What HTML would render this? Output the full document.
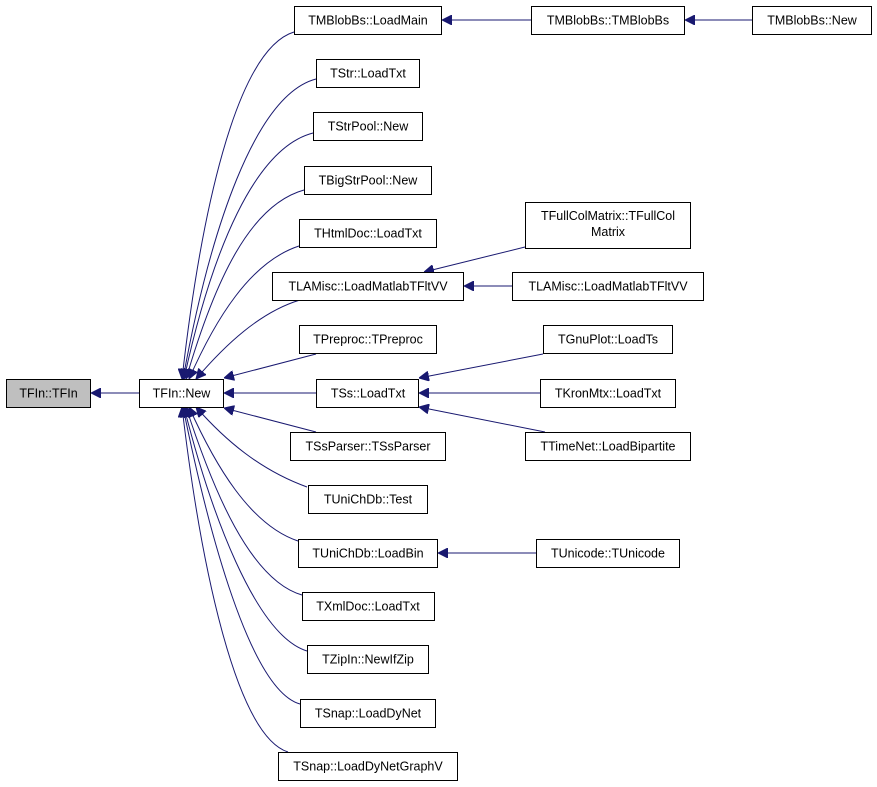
<!DOCTYPE html>
<html><head><meta charset="utf-8"><style>
html,body{margin:0;padding:0;background:#fff}
svg{display:block}
text{font-family:"Liberation Sans",Arial,sans-serif;font-size:12.5px;fill:#000}
rect{fill:#fff;stroke:#000;stroke-width:1}
path.e{fill:none;stroke:#191970;stroke-width:1}
</style></head><body>
<svg width="877" height="787" viewBox="0 0 877 787" xmlns="http://www.w3.org/2000/svg">
<defs><marker id="a" viewBox="0 0 10 10" refX="10" refY="5" markerWidth="10" markerHeight="10" markerUnits="userSpaceOnUse" orient="auto"><path d="M0,0 L10,5 L0,10 z" fill="#191970" stroke="#191970"/></marker></defs>

<!-- edges -->
<path class="e" marker-end="url(#a)" d="M139,393 L91,393"/>
<path class="e" marker-end="url(#a)" d="M294,32 C235,50 200,220 182,379"/>
<path class="e" marker-end="url(#a)" d="M316,79 C255,95 210,230 183,379"/>
<path class="e" marker-end="url(#a)" d="M313,133 C255,148 212,250 184,379"/>
<path class="e" marker-end="url(#a)" d="M304,190 C250,205 215,280 186,379"/>
<path class="e" marker-end="url(#a)" d="M299,246 C250,262 215,320 189,379"/>
<path class="e" marker-end="url(#a)" d="M300,300 C260,312 225,345 196,379"/>
<path class="e" marker-end="url(#a)" d="M316,354 L224,378"/>
<path class="e" marker-end="url(#a)" d="M316,393 L224,393"/>
<path class="e" marker-end="url(#a)" d="M316,432 L224,408"/>
<path class="e" marker-end="url(#a)" d="M307,487 C260,470 225,440 196,407"/>
<path class="e" marker-end="url(#a)" d="M298,541 C250,525 215,465 189,407"/>
<path class="e" marker-end="url(#a)" d="M302,595 C250,580 213,490 186,407"/>
<path class="e" marker-end="url(#a)" d="M307,651 C255,635 210,510 184,407"/>
<path class="e" marker-end="url(#a)" d="M300,704 C250,690 208,530 183,407"/>
<path class="e" marker-end="url(#a)" d="M288,752 C235,735 200,560 182,407"/>
<path class="e" marker-end="url(#a)" d="M531,20 L442,20"/>
<path class="e" marker-end="url(#a)" d="M752,20 L685,20"/>
<path class="e" marker-end="url(#a)" d="M525,247 L424,272"/>
<path class="e" marker-end="url(#a)" d="M512,286 L464,286"/>
<path class="e" marker-end="url(#a)" d="M543,354 L419,378"/>
<path class="e" marker-end="url(#a)" d="M540,393 L419,393"/>
<path class="e" marker-end="url(#a)" d="M545,432 L419,407"/>
<path class="e" marker-end="url(#a)" d="M536,553 L438,553"/>

<!-- nodes -->
<rect x="6.5" y="379.5" width="84" height="28" style="fill:#bfbfbf"/><text x="48.5" y="397.5" text-anchor="middle">TFIn::TFIn</text>
<rect x="139.5" y="379.5" width="84" height="28"/><text x="181.5" y="397.5" text-anchor="middle">TFIn::New</text>

<rect x="294.5" y="6.5" width="147" height="28"/><text x="368" y="24.5" text-anchor="middle">TMBlobBs::LoadMain</text>
<rect x="316.5" y="59.5" width="103" height="28"/><text x="368" y="77.5" text-anchor="middle">TStr::LoadTxt</text>
<rect x="313.5" y="112.5" width="109" height="28"/><text x="368" y="130.5" text-anchor="middle">TStrPool::New</text>
<rect x="304.5" y="166.5" width="127" height="28"/><text x="368" y="184.5" text-anchor="middle">TBigStrPool::New</text>
<rect x="299.5" y="219.5" width="137" height="28"/><text x="368" y="237.5" text-anchor="middle">THtmlDoc::LoadTxt</text>
<rect x="272.5" y="272.5" width="191" height="28"/><text x="368" y="290.5" text-anchor="middle">TLAMisc::LoadMatlabTFltVV</text>
<rect x="299.5" y="325.5" width="137" height="28"/><text x="368" y="343.5" text-anchor="middle">TPreproc::TPreproc</text>
<rect x="316.5" y="379.5" width="102" height="28"/><text x="368" y="397.5" text-anchor="middle">TSs::LoadTxt</text>
<rect x="290.5" y="432.5" width="155" height="28"/><text x="368" y="450.5" text-anchor="middle">TSsParser::TSsParser</text>
<rect x="308.5" y="485.5" width="119" height="28"/><text x="368" y="503.5" text-anchor="middle">TUniChDb::Test</text>
<rect x="298.5" y="539.5" width="139" height="28"/><text x="368" y="557.5" text-anchor="middle">TUniChDb::LoadBin</text>
<rect x="302.5" y="592.5" width="132" height="28"/><text x="368" y="610.5" text-anchor="middle">TXmlDoc::LoadTxt</text>
<rect x="307.5" y="645.5" width="121" height="28"/><text x="368" y="663.5" text-anchor="middle">TZipIn::NewIfZip</text>
<rect x="300.5" y="699.5" width="135" height="28"/><text x="368" y="717.5" text-anchor="middle">TSnap::LoadDyNet</text>
<rect x="278.5" y="752.5" width="179" height="28"/><text x="368" y="770.5" text-anchor="middle">TSnap::LoadDyNetGraphV</text>

<rect x="531.5" y="6.5" width="153" height="28"/><text x="608" y="24.5" text-anchor="middle">TMBlobBs::TMBlobBs</text>
<rect x="752.5" y="6.5" width="119" height="28"/><text x="812" y="24.5" text-anchor="middle">TMBlobBs::New</text>
<rect x="525.5" y="202.5" width="165" height="46"/><text x="608" y="220" text-anchor="middle">TFullColMatrix::TFullCol</text><text x="608" y="236" text-anchor="middle">Matrix</text>
<rect x="512.5" y="272.5" width="191" height="28"/><text x="608" y="290.5" text-anchor="middle">TLAMisc::LoadMatlabTFltVV</text>
<rect x="543.5" y="325.5" width="129" height="28"/><text x="608" y="343.5" text-anchor="middle">TGnuPlot::LoadTs</text>
<rect x="540.5" y="379.5" width="135" height="28"/><text x="608" y="397.5" text-anchor="middle">TKronMtx::LoadTxt</text>
<rect x="525.5" y="432.5" width="165" height="28"/><text x="608" y="450.5" text-anchor="middle">TTimeNet::LoadBipartite</text>
<rect x="536.5" y="539.5" width="143" height="28"/><text x="608" y="557.5" text-anchor="middle">TUnicode::TUnicode</text>
</svg>
</body></html>
